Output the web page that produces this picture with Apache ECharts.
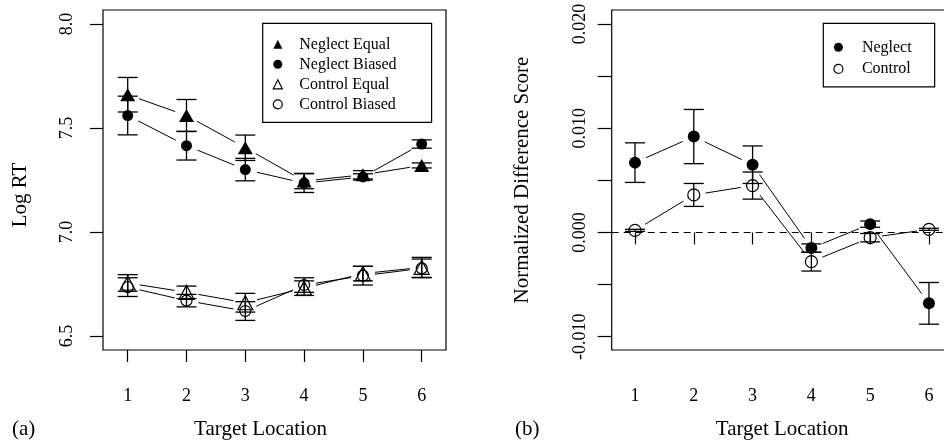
<!DOCTYPE html>
<html><head><meta charset="utf-8">
<script src="https://cdn.jsdelivr.net/npm/echarts@6/dist/echarts.min.js"></script>
<style>html,body{margin:0;padding:0;background:#fff}#c{width:944px;height:446px}</style>
</head><body><div id="c"></div>
<script>
// ---- data ----
const locations = [1, 2, 3, 4, 5, 6];
const yTicksA = [6.5, 7.0, 7.5, 8.0];
const yTicksB = [-0.010, -0.005, 0.000, 0.005, 0.010, 0.015, 0.020];
const yLabelsB = [-0.010, 0.000, 0.010, 0.020];

const neglectEqual      = [7.660, 7.560, 7.405, 7.245, 7.275, 7.320];
const neglectEqualErr   = [0.083, 0.077, 0.061, 0.037, 0.020, 0.012];
const neglectBiased     = [7.560, 7.415, 7.300, 7.235, 7.265, 7.423];
const neglectBiasedErr  = [0.093, 0.069, 0.054, 0.045, 0.015, 0.020];
const controlEqual      = [6.755, 6.710, 6.660, 6.730, 6.800, 6.830];
const controlEqualErr   = [0.040, 0.030, 0.045, 0.035, 0.035, 0.048];
const controlBiased     = [6.735, 6.670, 6.620, 6.745, 6.790, 6.825];
const controlBiasedErr  = [0.045, 0.030, 0.045, 0.035, 0.045, 0.045];

const neglectDiff       = [0.0067, 0.0092, 0.0065, -0.0015, 0.0008, -0.0068];
const neglectDiffErr    = [0.0019, 0.0026, 0.0018, 0.0004, 0.0003, 0.0020];
const controlDiff       = [0.0002, 0.0036, 0.0045, -0.0028, -0.0005, 0.0003];
const controlDiffErr    = [0.0001, 0.0011, 0.0013, 0.0009, 0.0004, 0.0001];

// ---- helpers ----
const FONT = '"Liberation Serif","Times New Roman",Times,serif';
const BLACK = '#000';

function pts(means) { return locations.map((x, i) => [x, means[i]]); }
function errData(means, errs) { return locations.map((x, i) => [x, means[i] - errs[i], means[i] + errs[i]]); }
function segData(means) {
  const out = [];
  for (let i = 0; i < locations.length - 1; i++) out.push([locations[i], means[i], locations[i + 1], means[i + 1]]);
  return out;
}
function errSeries(id, means, errs, ax) {
  return {
    type: 'custom', id: id, xAxisIndex: ax, yAxisIndex: ax, silent: true, z: 3, clip: false,
    data: errData(means, errs), encode: { x: 0, y: [1, 2] },
    renderItem: function (params, api) {
      const x = api.value(0), lo = api.value(1), hi = api.value(2);
      const a = api.coord([x, lo]), b = api.coord([x, hi]);
      const w = 10, st = { stroke: BLACK, lineWidth: 1.3 };
      return { type: 'group', children: [
        { type: 'line', shape: { x1: a[0], y1: a[1], x2: b[0], y2: b[1] }, style: st },
        { type: 'line', shape: { x1: a[0] - w, y1: a[1], x2: a[0] + w, y2: a[1] }, style: st },
        { type: 'line', shape: { x1: b[0] - w, y1: b[1], x2: b[0] + w, y2: b[1] }, style: st }
      ] };
    }
  };
}
function lineSeries(id, means, ax) {
  return {
    type: 'custom', id: id, xAxisIndex: ax, yAxisIndex: ax, silent: true, z: 2, clip: false,
    data: segData(means), encode: { x: [0, 2], y: [1, 3] },
    renderItem: function (params, api) {
      const a = api.coord([api.value(0), api.value(1)]);
      const b = api.coord([api.value(2), api.value(3)]);
      const dx = b[0] - a[0], dy = b[1] - a[1], L = Math.hypot(dx, dy), g = 12;
      if (L <= 2 * g) return null;
      const ux = dx / L, uy = dy / L;
      return { type: 'line', shape: { x1: a[0] + ux * g, y1: a[1] + uy * g, x2: b[0] - ux * g, y2: b[1] - uy * g },
               style: { stroke: BLACK, lineWidth: 1 } };
    }
  };
}
function markSeries(name, means, ax, symbol, size, filled) {
  return {
    type: 'scatter', name: name, xAxisIndex: ax, yAxisIndex: ax, z: 4,
    symbol: symbol, symbolSize: size, data: pts(means),
    itemStyle: filled ? { color: BLACK, borderWidth: 0, opacity: 1 }
                      : { color: 'transparent', borderColor: BLACK, borderWidth: 1.2, opacity: 1 },
    emphasis: { disabled: true }
  };
}
const filledIcon = { color: BLACK, borderWidth: 0, opacity: 1 };
const openIcon = { color: 'transparent', borderColor: BLACK, borderWidth: 1.2, opacity: 1 };
const txt = { fontFamily: FONT, color: BLACK };

function xAxisCfg(grid, min, max, namePad) {
  return {
    type: 'value', gridIndex: grid, min: min, max: max,
    axisLine: { show: false }, splitLine: { show: false },
    axisTick: { show: true, length: 12, customValues: locations, lineStyle: { color: BLACK, width: 1.2 } },
    axisLabel: { customValues: locations, margin: 37, fontSize: 18, ...txt },
    name: 'Target Location', nameLocation: 'middle', nameGap: 69,
    nameTextStyle: { fontSize: 21, ...txt, padding: namePad }
  };
}

const option = {
  animation: false,
  backgroundColor: '#fff',
  grid: [
    { left: 103, top: 10, width: 343, height: 340, show: true, borderColor: BLACK, borderWidth: 1.2,
      backgroundColor: 'transparent', outerBoundsMode: 'none', containLabel: false },
    { left: 611.7, top: 10, width: 341, height: 340, show: true, borderColor: BLACK, borderWidth: 1.2,
      backgroundColor: 'transparent', outerBoundsMode: 'none', containLabel: false }
  ],
  xAxis: [
    xAxisCfg(0, 0.58, 6.413, [0, 28, 0, 0]),
    xAxisCfg(1, 0.604, 6.404, [0, 0, 0, 0])
  ],
  yAxis: [
    {
      type: 'value', gridIndex: 0, min: 6.4327, max: 8.0673,
      axisLine: { show: false }, splitLine: { show: false },
      axisTick: { show: true, length: 13, customValues: yTicksA, lineStyle: { color: BLACK, width: 1.2 } },
      axisLabel: { customValues: yTicksA, rotate: 90, margin: 27, fontSize: 18, ...txt,
                   formatter: v => v.toFixed(1) },
      name: 'Log RT', nameLocation: 'middle', nameRotate: 90, nameGap: 72,
      nameTextStyle: { fontSize: 21, ...txt, padding: [0, 30, 0, 0] }
    },
    {
      type: 'value', gridIndex: 1, min: -0.011276, max: 0.021343,
      axisLine: { show: false }, splitLine: { show: false },
      axisTick: { show: true, length: 14, customValues: yTicksB, lineStyle: { color: BLACK, width: 1.2 } },
      axisLabel: { customValues: yLabelsB, rotate: 90, margin: 22, fontSize: 18, ...txt,
                   formatter: v => (Math.abs(v) < 1e-9 ? 0 : v).toFixed(3) },
      name: 'Normalized Difference Score', nameLocation: 'middle', nameRotate: 90, nameGap: 79,
      nameTextStyle: { fontSize: 21, ...txt }
    }
  ],
  legend: [
    {
      orient: 'vertical', left: 262.7, top: 23.3,
      borderColor: BLACK, borderWidth: 1.2, padding: [13, 35, 10, 10],
      itemWidth: 9, itemHeight: 9, itemGap: 4, selectedMode: false,
      textStyle: { fontSize: 16, lineHeight: 16, ...txt, padding: [0, 0, 0, 12] },
      data: [
        { name: 'Neglect Equal', icon: 'triangle', itemStyle: filledIcon },
        { name: 'Neglect Biased', icon: 'circle', itemStyle: filledIcon },
        { name: 'Control Equal', icon: 'triangle', itemStyle: openIcon },
        { name: 'Control Biased', icon: 'circle', itemStyle: openIcon }
      ]
    },
    {
      orient: 'vertical', left: 823.3, top: 23.3,
      borderColor: BLACK, borderWidth: 1.2, padding: [16, 23, 10, 10],
      itemWidth: 9, itemHeight: 9, itemGap: 5.6, selectedMode: false,
      textStyle: { fontSize: 16, lineHeight: 16, ...txt, padding: [0, 0, 0, 14] },
      data: [
        { name: 'Neglect', icon: 'circle', itemStyle: filledIcon },
        { name: 'Control', icon: 'circle', itemStyle: openIcon }
      ]
    }
  ],
  graphic: [
    { type: 'text', left: 12, top: 419, style: { text: '(a)', font: '21px ' + FONT, fill: BLACK } },
    { type: 'text', left: 515, top: 419, style: { text: '(b)', font: '21px ' + FONT, fill: BLACK } }
  ],
  series: [
    lineSeries('lNE', neglectEqual, 0),
    lineSeries('lNB', neglectBiased, 0),
    lineSeries('lCE', controlEqual, 0),
    lineSeries('lCB', controlBiased, 0),
    errSeries('eNE', neglectEqual, neglectEqualErr, 0),
    errSeries('eNB', neglectBiased, neglectBiasedErr, 0),
    errSeries('eCE', controlEqual, controlEqualErr, 0),
    errSeries('eCB', controlBiased, controlBiasedErr, 0),
    markSeries('Neglect Equal', neglectEqual, 0, 'triangle', [15, 13], true),
    markSeries('Neglect Biased', neglectBiased, 0, 'circle', 11, true),
    markSeries('Control Equal', controlEqual, 0, 'triangle', [15, 14], false),
    markSeries('Control Biased', controlBiased, 0, 'circle', 11, false),

    lineSeries('lN', neglectDiff, 1),
    lineSeries('lC', controlDiff, 1),
    errSeries('eN', neglectDiff, neglectDiffErr, 1),
    errSeries('eC', controlDiff, controlDiffErr, 1),
    Object.assign(markSeries('Neglect', neglectDiff, 1, 'circle', 12, true), {
      markLine: { silent: true, symbol: ['none', 'none'], label: { show: false },
                  lineStyle: { type: [7, 5], color: BLACK, width: 1 }, data: [{ yAxis: 0 }] }
    }),
    markSeries('Control', controlDiff, 1, 'circle', 12, false)
  ]
};

const chart = echarts.init(document.getElementById('c'), null, { renderer: 'canvas' });
chart.setOption(option);
</script>
</body></html>
